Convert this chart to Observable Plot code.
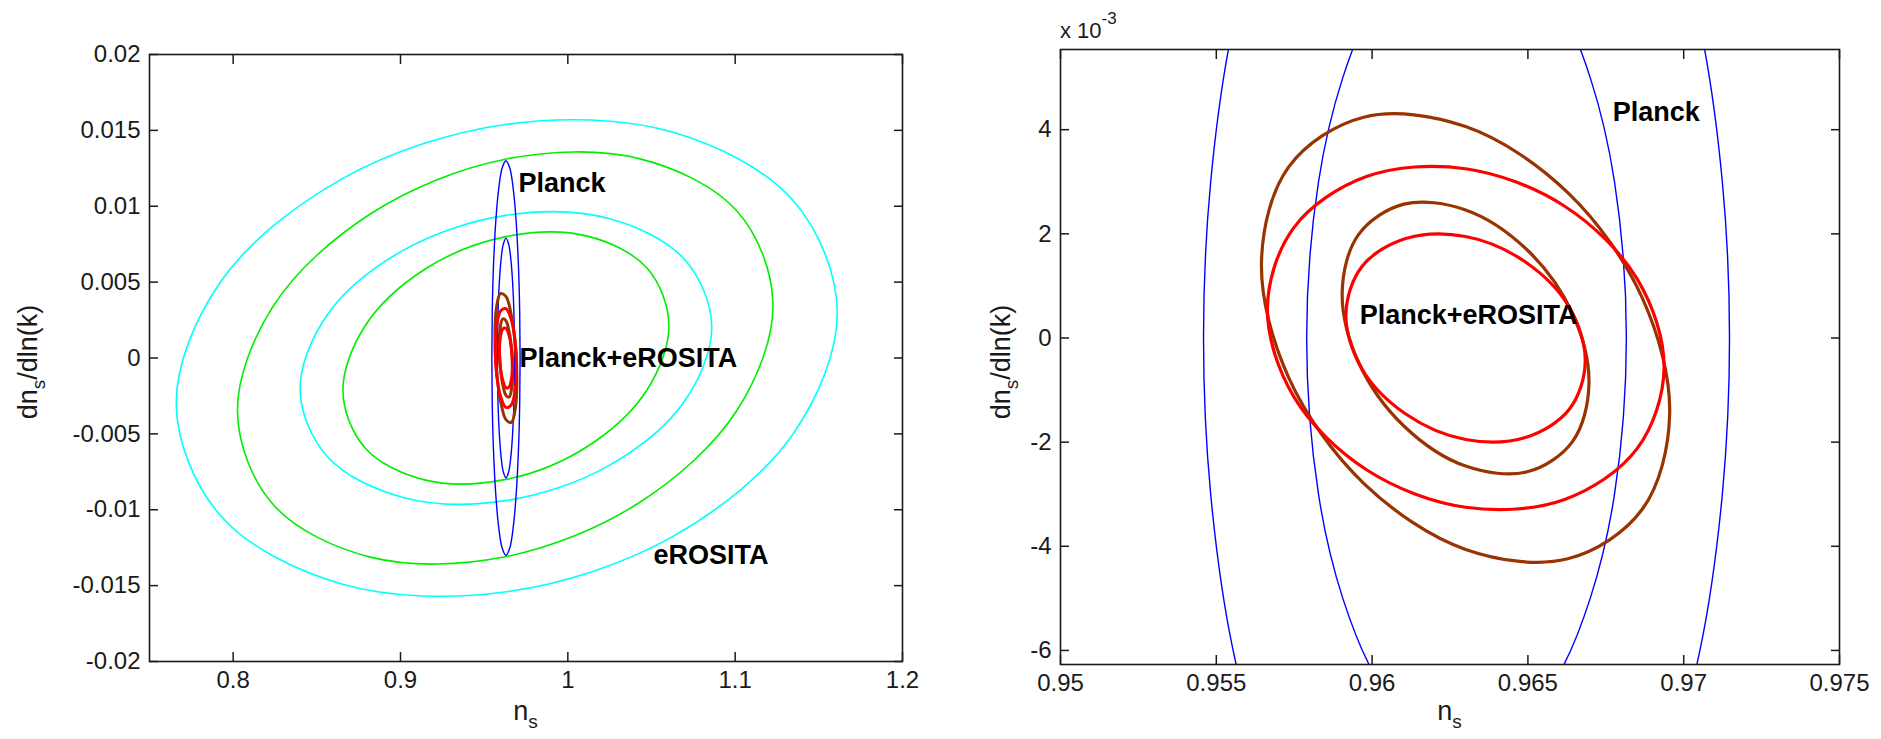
<!DOCTYPE html>
<html><head><meta charset="utf-8">
<script src="https://cdn.jsdelivr.net/npm/d3@7"></script>
<script src="https://cdn.jsdelivr.net/npm/@observablehq/plot@0.6"></script>
<style>
html,body{margin:0;padding:0;background:#fff;}
#wrap{position:relative;width:1881px;height:739px;overflow:hidden;background:#fff;}
</style></head>
<body><div id="wrap"></div>
<script>
// ---------- data ----------
// tick values
const leftXTicks = [0.8, 0.9, 1, 1.1, 1.2];
const leftYTicks = [-0.02, -0.015, -0.01, -0.005, 0, 0.005, 0.01, 0.015, 0.02];
const rightXTicks = [0.95, 0.955, 0.96, 0.965, 0.97, 0.975];
const rightYTicks = [-0.006, -0.004, -0.002, 0, 0.002, 0.004];

// contour points [n_s, dn_s/dln(k)] traced around each closed contour
const cyanOuter = [[1.1610,0.0031],[1.1345,0.01039],[1.0623,0.01489],[0.9635,0.0154],[0.8648,0.01179],[0.7925,0.00502],[0.7660,-0.0031],[0.7925,-0.01039],[0.8648,-0.01489],[0.9635,-0.0154],[1.0623,-0.01179],[1.1345,-0.00502]];
const cyanInner = [[1.0860,0.0021],[1.0695,0.00652],[1.0245,0.00919],[0.9630,0.0094],[0.9015,0.00709],[0.8565,0.00288],[0.8400,-0.0021],[0.8565,-0.00652],[0.9015,-0.00919],[0.9630,-0.0094],[1.0245,-0.00709],[1.0695,-0.00288]];
const greenOuter = [[1.1226,0.0036],[1.1012,0.00967],[1.0426,0.01314],[0.9626,0.0131],[0.8826,0.00954],[0.8240,0.00343],[0.8026,-0.0036],[0.8240,-0.00967],[0.8826,-0.01314],[0.9626,-0.0131],[1.0426,-0.00954],[1.1012,-0.00343]];
const greenInner = [[1.0604,0.0022],[1.0474,0.00591],[1.0117,0.00803],[0.9630,0.0080],[0.9143,0.00583],[0.8787,0.00209],[0.8656,-0.0022],[0.8787,-0.00591],[0.9143,-0.00803],[0.9630,-0.0080],[1.0117,-0.00583],[1.0474,-0.00209]];
const planckOuter = [[0.96303,0.013],[0.96535,0.0125],[0.96753,0.011],[0.96912,0.009],[0.97052,0.006],[0.97124,0.003],[0.97147,0],[0.97124,-0.003],[0.97052,-0.006],[0.96912,-0.009],[0.96753,-0.011],[0.96535,-0.0125],[0.96303,-0.013],[0.96071,-0.0125],[0.95853,-0.011],[0.95694,-0.009],[0.95554,-0.006],[0.95482,-0.003],[0.95459,0],[0.95482,0.003],[0.95554,0.006],[0.95694,0.009],[0.95853,0.011],[0.96071,0.0125]];
const planckInner = [[0.96303,0.0079],[0.96464,0.0075],[0.96595,0.0065],[0.96700,0.005],[0.96778,0.003],[0.96816,0],[0.96778,-0.003],[0.96700,-0.005],[0.96595,-0.0065],[0.96464,-0.0075],[0.96303,-0.0079],[0.96142,-0.0075],[0.96011,-0.0065],[0.95906,-0.005],[0.95828,-0.003],[0.95790,0],[0.95828,0.003],[0.95906,0.005],[0.96011,0.0065],[0.96142,0.0075]];
const brownOuter = [[0.96955,-0.00145],[0.96867,0.00077],[0.96628,0.00279],[0.96300,0.00406],[0.95973,0.00424],[0.95733,0.00329],[0.95645,0.00145],[0.95733,-0.00077],[0.95973,-0.00279],[0.96300,-0.00406],[0.96628,-0.00424],[0.96867,-0.00329]];
const brownInner = [[0.96696,-0.00088],[0.96643,0.00047],[0.96498,0.00169],[0.96300,0.00246],[0.96102,0.00257],[0.95957,0.00199],[0.95904,0.00088],[0.95957,-0.00047],[0.96102,-0.00169],[0.96300,-0.00246],[0.96498,-0.00257],[0.96643,-0.00199]];
const redOuter = [[0.96937,-0.00057],[0.96851,0.00113],[0.96618,0.00253],[0.96300,0.00325],[0.95982,0.0031],[0.95749,0.00212],[0.95664,0.00057],[0.95749,-0.00113],[0.95982,-0.00253],[0.96300,-0.00325],[0.96618,-0.0031],[0.96851,-0.00212]];
const redInner = [[0.96684,-0.00045],[0.96633,0.00059],[0.96492,0.00146],[0.96300,0.00195],[0.96108,0.00191],[0.95967,0.00137],[0.95916,0.00045],[0.95967,-0.00059],[0.96108,-0.00146],[0.96300,-0.00195],[0.96492,-0.00191],[0.96633,-0.00137]];

// text labels placed in data coordinates
const leftLabels = [
  {text: "Planck", x: 0.9705, y: 0.0115},
  {text: "Planck+eROSITA", x: 0.9711, y: 0.0},
  {text: "eROSITA", x: 1.0512, y: -0.0130}
];
const rightLabels = [
  {text: "Planck", x: 0.96772, y: 0.00433},
  {text: "Planck+eROSITA", x: 0.9596, y: 0.00043}
];

// ---------- drawing ----------
const FONT = "'Liberation Sans', Arial, Helvetica, sans-serif";
const INK = "#1a1a1a";

function curve(data, color, width) {
  return Plot.line(data, {x: d => d[0], y: d => d[1], stroke: color, strokeWidth: width,
    curve: "catmull-rom-closed", clip: true});
}

function axes(xTicks, yTicks, xFmt, yFmt) {
  return [
    Plot.axisX(xTicks, {anchor: "bottom", tickSize: -9, tickPadding: 18, tickFormat: xFmt, label: null, strokeWidth: 1.5}),
    Plot.axisX(xTicks, {anchor: "top", tickSize: -9, tickFormat: () => "", label: null, strokeWidth: 1.5}),
    Plot.axisY(yTicks, {anchor: "left", tickSize: -9, tickPadding: 18, tickFormat: yFmt, label: null, strokeWidth: 1.5}),
    Plot.axisY(yTicks, {anchor: "right", tickSize: -9, tickFormat: () => "", label: null, strokeWidth: 1.5}),
    Plot.frame({stroke: INK, strokeWidth: 1.6})
  ];
}

const styleObj = {fontFamily: FONT, fontSize: "24px", color: INK, background: "transparent", overflow: "visible"};
const labelStyle = {x: "x", y: "y", text: "text", textAnchor: "start", fontSize: 27, fontWeight: "bold", fill: "#000"};

const leftPlot = Plot.plot({
  width: 940, height: 739,
  marginLeft: 149, marginRight: 38, marginTop: 54, marginBottom: 78,
  x: {domain: [0.75, 1.2]},
  y: {domain: [-0.02, 0.02]},
  style: styleObj,
  marks: [
    curve(cyanOuter, "#00ffff", 1.6),
    curve(greenOuter, "#00ee00", 1.6),
    curve(cyanInner, "#00ffff", 1.6),
    curve(greenInner, "#00ee00", 1.6),
    curve(planckOuter, "#0000ff", 1.4),
    curve(planckInner, "#0000ff", 1.4),
    curve(brownOuter, "#993300", 3),
    curve(brownInner, "#993300", 3),
    curve(redOuter, "#ff0000", 3),
    curve(redInner, "#ff0000", 3),
    Plot.text(leftLabels, labelStyle),
    ...axes(leftXTicks, leftYTicks, d => String(d), d => String(d))
  ]
});

const rightPlot = Plot.plot({
  width: 941, height: 739,
  marginLeft: 120, marginRight: 42, marginTop: 49, marginBottom: 75,
  x: {domain: [0.95, 0.975]},
  y: {domain: [-0.00627, 0.00554]},
  style: styleObj,
  marks: [
    curve(planckOuter, "#0000ff", 1.4),
    curve(planckInner, "#0000ff", 1.4),
    curve(brownOuter, "#993300", 3.2),
    curve(brownInner, "#993300", 3.2),
    curve(redOuter, "#ff0000", 3.2),
    curve(redInner, "#ff0000", 3.2),
    Plot.text(rightLabels, labelStyle),
    ...axes(rightXTicks, rightYTicks, d => String(d), d => String(Math.round(d * 1000)))
  ]
});

const wrap = document.getElementById("wrap");
for (const [svg, x] of [[leftPlot, 0], [rightPlot, 940]]) {
  svg.style.position = "absolute";
  svg.style.left = x + "px";
  svg.style.top = "0px";
  wrap.appendChild(svg);
}

// axis titles with sub/superscripts
const overlay = d3.create("svg")
  .attr("width", 1881).attr("height", 739)
  .style("position", "absolute").style("left", "0px").style("top", "0px")
  .style("pointer-events", "none")
  .attr("font-family", FONT).attr("fill", INK);

function subLabel(g, main, sub, rest) {
  g.append("tspan").text(main);
  g.append("tspan").attr("dy", 8).attr("font-size", 19).text(sub);
  if (rest) g.append("tspan").attr("dy", -8).text(rest);
}
for (const cx of [525.5, 1449.5]) {
  const t = overlay.append("text").attr("x", cx).attr("y", 720).attr("text-anchor", "middle").attr("font-size", 27);
  subLabel(t, "n", "s", null);
}
for (const bx of [37, 1010]) {
  const t = overlay.append("text").attr("transform", `translate(${bx},362) rotate(-90)`)
    .attr("text-anchor", "middle").attr("font-size", 27);
  subLabel(t, "dn", "s", "/dln(k)");
}
const ex = overlay.append("text").attr("x", 1060).attr("y", 38).attr("font-size", 22);
ex.append("tspan").text("x 10");
ex.append("tspan").attr("dy", -14).attr("font-size", 17).text("-3");
wrap.appendChild(overlay.node());
</script></body></html>
